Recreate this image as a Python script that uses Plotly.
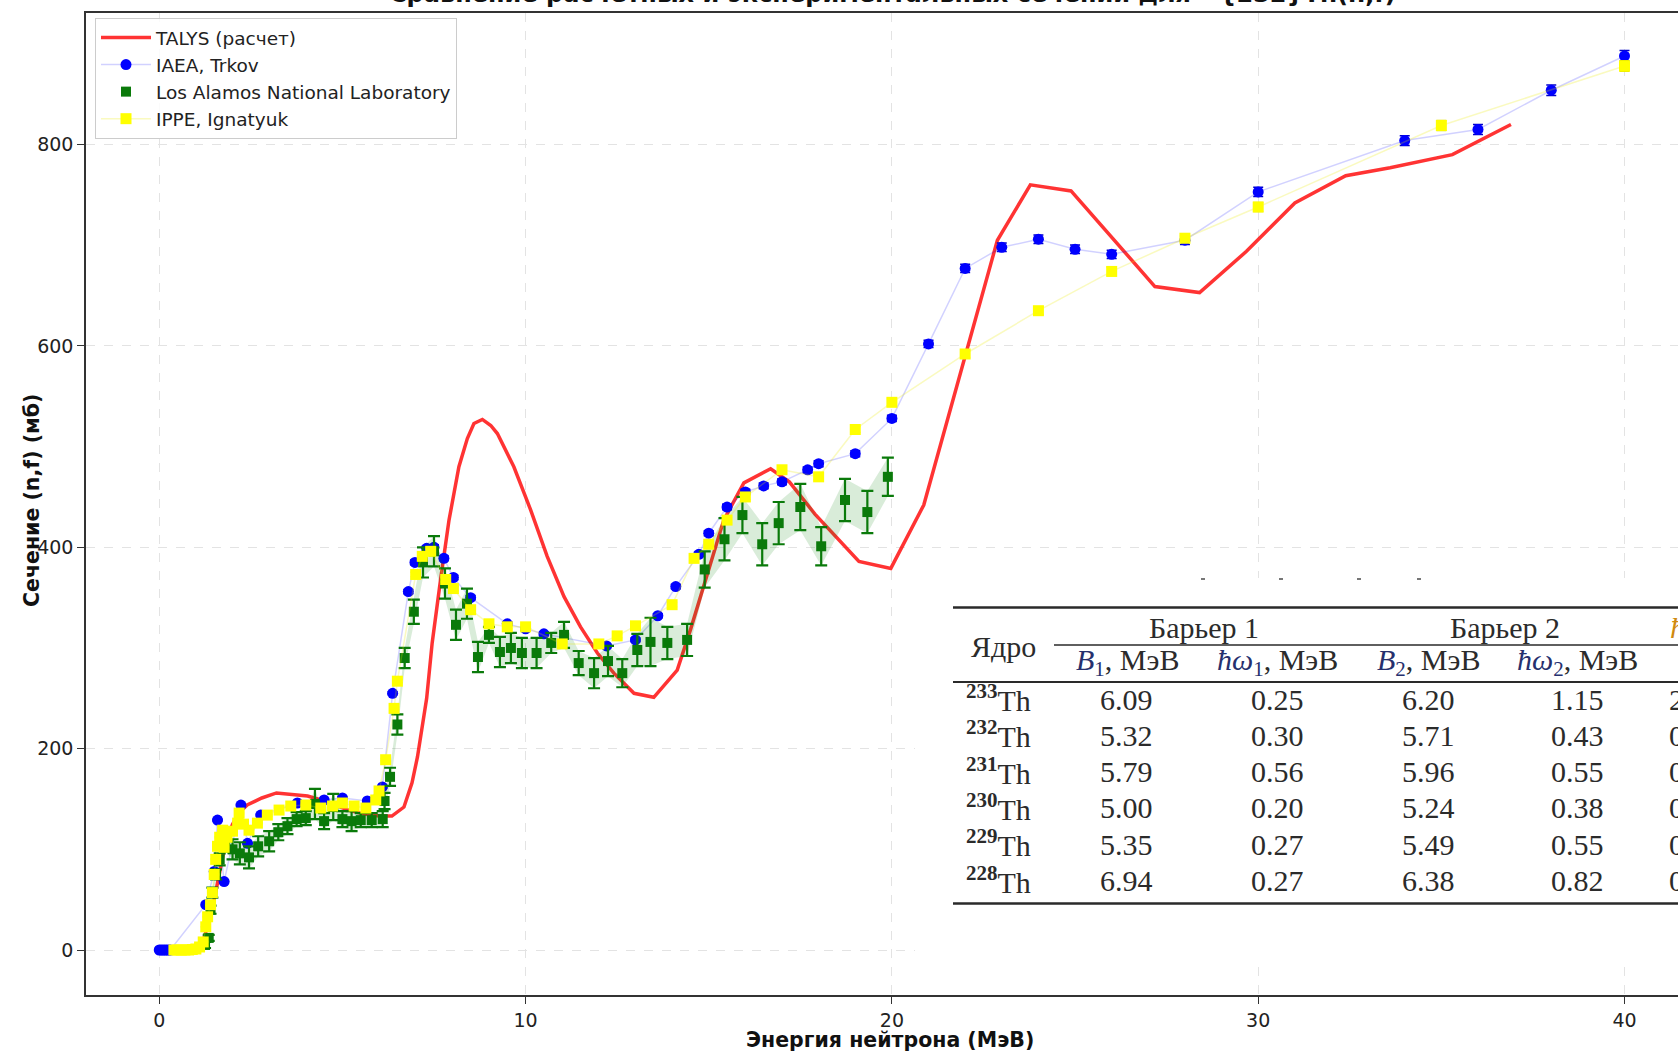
import plotly.graph_objects as go

# ---------------- data ----------------
talys_e = [0.1, 0.8, 1.0, 1.2, 1.4, 1.6, 1.8, 2.0, 2.2, 2.4, 2.8, 3.2, 3.6, 4.05, 4.6, 5.15, 5.6, 6.0, 6.35,
           6.68, 6.9, 7.05, 7.3, 7.45, 7.68, 7.91, 8.18, 8.41, 8.59, 8.82, 9.05, 9.23, 9.68, 10.14, 10.59,
           11.05, 11.5, 11.96, 12.41, 12.96, 13.5, 14.14, 14.5, 14.96, 15.41, 15.96, 16.69, 17.2, 17.9,
           19.1, 19.97, 20.87, 22.88, 23.78, 24.89, 27.18, 28.4, 29.68, 31.0, 32.39, 33.6, 35.3, 36.9]
talys_s = [0, 0, 1, 10, 32, 70, 105, 125, 137, 144, 151, 156, 155, 153, 147, 139, 135, 133, 133,
           142, 166, 192, 250, 305, 368, 427, 480, 508, 523, 527, 521, 513, 480, 437, 391,
           351, 321, 295, 275, 255, 251, 278, 318, 374, 427, 464, 478, 465, 433,
           386, 379, 442, 705, 760, 754, 659, 653, 694, 742, 769, 777, 790, 820]

iaea_e = [0.0, 0.05, 0.1, 0.15, 0.2, 0.25, 0.3, 1.27, 1.5, 1.59, 1.77, 2.23, 2.41, 2.77, 3.77, 4.5, 5.0,
          5.68, 6.09, 6.37, 6.8, 6.98, 7.3, 7.5, 7.77, 8.03, 8.5, 9.5, 10.0, 10.5, 12.21, 13.0, 13.61,
          14.1, 14.73, 15.0, 15.5, 16.0, 16.5, 17.0, 17.7, 18.0, 19.0, 20.0, 21.0, 22.0, 23.0, 24.0, 25.0,
          26.0, 28.0, 30.0, 34.0, 36.0, 38.0, 40.0]
iaea_s = [0, 0, 0, 0, 0, 0, 0, 45, 78, 129, 68, 144, 106, 134, 146, 149, 151,
          148, 162, 255, 356, 385, 399, 400, 389, 370, 350, 324, 319, 314, 302, 308, 332,
          361, 393, 414, 440, 455, 461, 465, 477, 483, 493, 528, 602, 677, 698, 706, 696,
          691, 705, 753, 804, 815, 854, 888]

lanl_e = [1.25, 1.35, 1.4, 1.45, 1.55, 1.65, 1.8, 2.0, 2.2, 2.45, 2.7, 3.0, 3.25, 3.5, 3.75, 4.0, 4.25,
          4.5, 4.75, 5.0, 5.25, 5.5, 5.8, 6.1, 6.15, 6.3, 6.5, 6.7, 6.95, 7.2, 7.5, 7.8, 8.1, 8.4, 8.7,
          9.0, 9.3, 9.6, 9.9, 10.3, 10.7, 11.05, 11.45, 11.87, 12.25, 12.64, 13.05, 13.41, 13.87, 14.41,
          14.89, 15.43, 15.92, 16.46, 16.91, 17.5, 18.07, 18.72, 19.33, 19.89]
lanl_s = [5, 12, 40, 57, 75, 90, 105, 100, 96, 92, 103, 108, 117, 123, 130, 131, 145,
          128, 142, 130, 128, 129, 129, 130, 148, 172, 224, 290, 336, 385, 396, 364, 323, 344, 291,
          313, 296, 300, 295, 295, 305, 313, 285, 275, 287, 275, 298, 306, 305, 308,
          378, 408, 432, 403, 424, 440, 401, 447, 435, 470]
lanl_err = [3, 3, 4, 5, 5, 6, 7, 10, 11, 11, 10, 10, 8, 8, 7, 7, 15,
            8, 13, 8, 10, 7, 7, 8, 8, 9, 10, 10, 12, 15, 15, 15, 15, 15, 15,
            8, 15, 15, 15, 15, 10, 13, 12, 15, 15, 14, 16, 24, 16, 16,
            18, 21, 18, 21, 21, 23, 19, 21, 21, 19]

ippe_e = [0.4, 0.5, 0.6, 0.7, 0.8, 0.9, 1.0, 1.1, 1.2, 1.27, 1.32, 1.4, 1.45, 1.5, 1.54, 1.59, 1.65, 1.73,
          1.77, 1.85, 2.0, 2.14, 2.18, 2.3, 2.45, 2.68, 2.95, 3.27, 3.59, 4.0, 4.41, 4.73, 5.0, 5.32,
          5.64, 5.91, 6.0, 6.18, 6.41, 6.5, 7.0, 7.18, 7.41, 7.82, 8.03, 8.5, 9.0, 9.5, 10.0, 11.0,
          12.0, 12.5, 13.0, 14.0, 14.6, 15.0, 15.5, 16.0, 17.0, 18.0, 19.0, 20.0, 22.0, 24.0, 26.0,
          28.0, 30.0, 35.0, 40.0]
ippe_s = [0, 0, 0, 0, 0, 0.5, 1, 3, 8, 23, 33, 45, 57, 75, 90, 103, 112, 119,
          102, 112, 118, 126, 136, 125, 119, 126, 134, 139, 143, 144, 141, 143, 146, 143,
          141, 149, 158, 189, 240, 267, 373, 391, 396, 368, 359, 338, 324, 321, 321, 304,
          304, 312, 322, 343, 389, 403, 427, 450, 477, 470, 517, 544, 592, 635, 674,
          707, 738, 819, 878]

x_ticks = [0, 10, 20, 30, 40]
y_ticks = [0, 200, 400, 600, 800]

title_text = "Сравнение расчетных и экспериментальных сечений для ^{232}Th(n,f)"
x_label = "Энергия нейтрона (МэВ)"
y_label = "Сечение (n,f) (мб)"

# table (overlay)
tbl_nuclei = ["233", "232", "231", "230", "229", "228"]
tbl_b1 = ["6.09", "5.32", "5.79", "5.00", "5.35", "6.94"]
tbl_w1 = ["0.25", "0.30", "0.56", "0.20", "0.27", "0.27"]
tbl_b2 = ["6.20", "5.71", "5.96", "5.24", "5.49", "6.38"]
tbl_w2 = ["1.15", "0.43", "0.55", "0.38", "0.55", "0.82"]
tbl_next = ["2", "0", "0", "0", "0", "0"]

# ---------------- layout geometry ----------------
W, H = 1678, 1052
ML, MR, MT, MB = 86, 0, 13, 57
PW, PH = W - ML - MR, H - MT - MB


def px(x):
    return (x - ML) / PW


def py(y):
    return 1 - (y - MT) / PH


fig = go.Figure()

fig.add_trace(go.Scatter(x=talys_e, y=talys_s, mode="lines", name="TALYS (расчет)",
                         line=dict(color="rgba(255,0,0,0.8)", width=3.5)))

fig.add_trace(go.Scatter(x=iaea_e, y=iaea_s, mode="lines+markers", name="IAEA, Trkov",
                         line=dict(color="rgba(0,0,255,0.18)", width=1.5),
                         marker=dict(symbol="circle", size=11, color="#0000ff"),
                         error_y=dict(type="percent", value=0.6, color="#0000cc", thickness=1.5, width=5)))

upper = [s + e for s, e in zip(lanl_s, lanl_err)]
lower = [s - e for s, e in zip(lanl_s, lanl_err)]
fig.add_trace(go.Scatter(x=lanl_e, y=lower, mode="lines", line=dict(width=0, color="rgba(0,0,0,0)"),
                         showlegend=False, hoverinfo="skip"))
fig.add_trace(go.Scatter(x=lanl_e, y=upper, mode="lines", line=dict(width=0, color="rgba(0,0,0,0)"),
                         fill="tonexty", fillcolor="rgba(0,128,0,0.15)", showlegend=False, hoverinfo="skip"))

fig.add_trace(go.Scatter(x=lanl_e, y=lanl_s, mode="markers", name="Los Alamos National Laboratory",
                         marker=dict(symbol="square", size=10, color="#0a7a0a"),
                         error_y=dict(type="data", array=lanl_err, color="#0a7a0a", thickness=2.2, width=6)))

fig.add_trace(go.Scatter(x=ippe_e, y=ippe_s, mode="lines+markers", name="IPPE, Ignatyuk",
                         line=dict(color="rgba(235,235,0,0.25)", width=1.5),
                         marker=dict(symbol="square", size=11, color="#ffff00"),
                         error_y=dict(type="percent", value=0.6, color="#e0e000", thickness=1.5, width=5)))

axis_font = dict(family="DejaVu Sans", size=19, color="#222222")
fig.update_xaxes(range=[-2.0, 41.46], tickvals=x_ticks, ticks="outside", ticklen=7, tickwidth=1.3,
                 tickcolor="#333333", tickfont=axis_font, showline=True, linecolor="#333333",
                 linewidth=1.5, mirror=True, showgrid=True, gridcolor="#e3e3e3", griddash="dash",
                 gridwidth=1, zeroline=False)
fig.update_yaxes(range=[-44.7, 930.7], tickvals=y_ticks, ticks="outside", ticklen=7, tickwidth=1.3,
                 tickcolor="#333333", tickfont=axis_font, showline=True, linecolor="#333333",
                 linewidth=1.5, mirror=False, showgrid=True, gridcolor="#e3e3e3", griddash="dash",
                 gridwidth=1, zeroline=False)

annotations = [
    dict(text="<b>" + title_text + "</b>", xref="paper", yref="paper", x=px(892), y=1.0,
         xanchor="center", yanchor="bottom", showarrow=False, yshift=3,
         font=dict(family="DejaVu Sans", size=24, color="#111111")),
    dict(text="<b>" + x_label + "</b>", xref="paper", yref="paper", x=px(890), y=py(1040),
         xanchor="center", yanchor="middle", showarrow=False,
         font=dict(family="DejaVu Sans", size=20.5, color="#111111")),
    dict(text="<b>" + y_label + "</b>", xref="paper", yref="paper", x=px(32), y=py(501),
         xanchor="center", yanchor="middle", showarrow=False, textangle=-90,
         font=dict(family="DejaVu Sans", size=20.5, color="#111111")),
]

shapes = []
# table overlay background
shapes.append(dict(type="rect", xref="paper", yref="paper", x0=px(915), x1=px(1690), y0=py(960), y1=py(578),
                   fillcolor="white", line=dict(width=0), layer="above"))
for dx in [1203, 1281, 1359, 1419]:
    shapes.append(dict(type="line", xref="paper", yref="paper", x0=px(dx - 2), x1=px(dx + 2), y0=py(579),
                       y1=py(579), line=dict(color="#777777", width=2), layer="above"))
rule_col = "#2a2a2a"
shapes.append(dict(type="line", xref="paper", yref="paper", x0=px(953), x1=px(1690), y0=py(607.5), y1=py(607.5),
                   line=dict(color=rule_col, width=2.6), layer="above"))
shapes.append(dict(type="line", xref="paper", yref="paper", x0=px(1054), x1=px(1690), y0=py(645), y1=py(645),
                   line=dict(color=rule_col, width=1.6), layer="above"))
shapes.append(dict(type="line", xref="paper", yref="paper", x0=px(953), x1=px(1690), y0=py(682), y1=py(682),
                   line=dict(color=rule_col, width=2.0), layer="above"))
shapes.append(dict(type="line", xref="paper", yref="paper", x0=px(953), x1=px(1690), y0=py(903.5), y1=py(903.5),
                   line=dict(color=rule_col, width=2.6), layer="above"))

serif = "Liberation Serif"
tcol = "#2b2b2b"
mcol = "#26306e"


def tann(text, xc, yc, size=30, anchor="center", color=tcol):
    return dict(text=text, xref="paper", yref="paper", x=px(xc), y=py(yc), xanchor=anchor, yanchor="middle",
                showarrow=False, font=dict(family=serif, size=size, color=color))


annotations.append(tann("Ядро", 1003, 646))
annotations.append(tann("Барьер 1", 1204, 627))
annotations.append(tann("Барьер 2", 1505, 627))
annotations.append(tann("<i>ħ</i>", 1668, 627, anchor="left", color="#d08a10"))
annotations.append(tann("<span style='color:%s'><i>B</i><sub>1</sub></span>, МэВ" % mcol, 1127, 662))
annotations.append(tann("<span style='color:%s'><i>ħω</i><sub>1</sub></span>, МэВ" % mcol, 1277, 662))
annotations.append(tann("<span style='color:%s'><i>B</i><sub>2</sub></span>, МэВ" % mcol, 1428, 662))
annotations.append(tann("<span style='color:%s'><i>ħω</i><sub>2</sub></span>, МэВ" % mcol, 1577, 662))

for i in range(len(tbl_nuclei)):
    yc = 699 + i * 36.3
    annotations.append(tann("<sup><b>%s</b></sup>Th" % tbl_nuclei[i], 964, yc - 1, anchor="left"))
    annotations.append(tann(tbl_b1[i], 1126, yc))
    annotations.append(tann(tbl_w1[i], 1277, yc))
    annotations.append(tann(tbl_b2[i], 1428, yc))
    annotations.append(tann(tbl_w2[i], 1577, yc))
    annotations.append(tann(tbl_next[i], 1667, yc, anchor="left"))

fig.update_layout(
    width=W, height=H,
    margin=dict(l=ML, r=MR, t=MT, b=MB, pad=0),
    paper_bgcolor="white", plot_bgcolor="white",
    showlegend=True,
    legend=dict(x=px(95), y=py(18), xanchor="left", yanchor="top", bgcolor="rgba(255,255,255,0.85)",
                bordercolor="#cccccc", borderwidth=1, traceorder="normal",
                font=dict(family="DejaVu Sans", size=18.5, color="#222222"),
                tracegroupgap=0, itemwidth=50),
    annotations=annotations,
    shapes=shapes,
)

fig.write_html("out.html")
